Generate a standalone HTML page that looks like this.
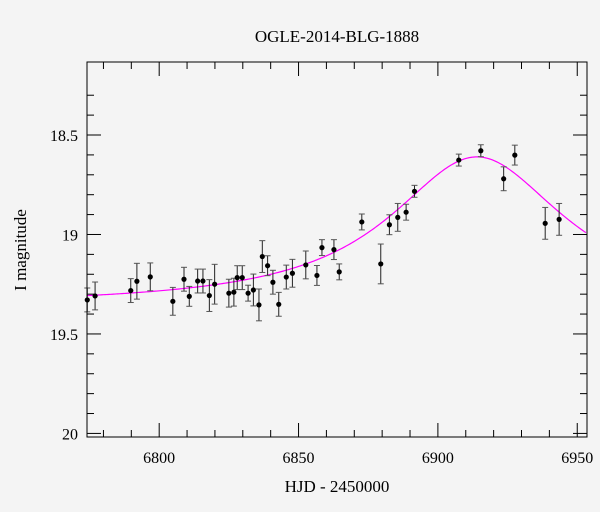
<!DOCTYPE html>
<html><head><meta charset="utf-8"><style>
html,body{margin:0;padding:0;background:#f4f4f4;}
svg{display:block;font-family:"Liberation Serif",serif;}
</style></head><body>
<svg id="chart" width="600" height="512" xmlns="http://www.w3.org/2000/svg">
<rect width="600" height="512" fill="#f4f4f4"/>
<text x="337" y="42" font-size="17" text-anchor="middle">OGLE-2014-BLG-1888</text>
<text x="337" y="492" font-size="17" text-anchor="middle">HJD - 2450000</text>
<text transform="translate(26,250) rotate(-90)" font-size="17" text-anchor="middle">I magnitude</text>
<g id="axes"></g>
<g id="marks"></g>
<rect x="87" y="62" width="500" height="375" fill="none" stroke="#000" stroke-width="1"/>
</svg>
<script>
const times = [6774.2,6777,6789.8,6792,6796.8,6804.9,6808.9,6810.8,6813.8,6815.7,6818,6819.9,6825,6826.8,6828,6829.8,6831.9,6833.8,6835.8,6837,6838.9,6840.8,6842.9,6845.6,6847.8,6852.6,6856.6,6858.4,6862.7,6864.6,6872.7,6879.5,6882.6,6885.6,6888.6,6891.6,6907.5,6915.4,6923.6,6927.6,6938.5,6943.5];
const mags = [19.329,19.309,19.282,19.235,19.213,19.336,19.225,19.311,19.234,19.234,19.307,19.25,19.295,19.29,19.217,19.217,19.295,19.279,19.354,19.111,19.157,19.24,19.351,19.214,19.195,19.153,19.206,19.066,19.076,19.188,18.937,19.148,18.951,18.914,18.888,18.783,18.626,18.579,18.72,18.601,18.944,18.924];
const errs = [0.06,0.07,0.06,0.09,0.07,0.07,0.06,0.05,0.06,0.06,0.08,0.1,0.07,0.07,0.06,0.06,0.04,0.08,0.08,0.08,0.05,0.06,0.06,0.06,0.07,0.07,0.05,0.04,0.05,0.04,0.04,0.1,0.05,0.07,0.04,0.03,0.03,0.03,0.06,0.05,0.08,0.08];
const xTicks = [6800,6850,6900,6950];
const yTicks = [18.5,19,19.5,20];
const model = {base:19.36, amp:0.75, t0:6914, width:38.5};

const X0=87,X1=587,Y0=62,Y1=437;
const tMin=6774.1,tMax=6953.5,mTop=18.133,mBot=20.018;
const sx=t=>X0+(t-tMin)/(tMax-tMin)*(X1-X0);
const sy=m=>Y0+(m-mTop)/(mBot-mTop)*(Y1-Y0);
const NS="http://www.w3.org/2000/svg";
const axes=document.getElementById('axes'), marks=document.getElementById('marks');
function mk(tag,attrs,parent){const e=document.createElementNS(NS,tag);for(const k in attrs)e.setAttribute(k,attrs[k]);parent.appendChild(e);return e;}
// x ticks
for(let t=6780;t<=6950;t+=10){
  const x=sx(t), maj=(t%50===0), L=maj?14:7;
  const a=mk('line',{x1:x,x2:x,y1:Y1,y2:Y1-L,stroke:'#000','stroke-width':1},axes);
  
  
  const b=mk('line',{x1:x,x2:x,y1:Y0,y2:Y0+L,stroke:'#000','stroke-width':1},axes);
  
  
}
xTicks.forEach(t=>{
  const e=mk('text',{x:sx(t),y:463,'font-size':16,'text-anchor':'middle'},axes);
  e.textContent=String(t);
  
  
});
// y ticks
for(let i=2;i<=20;i++){
  const m=18.1+i*0.1; if(m>20.01) break;
  const y=sy(m), maj=Math.abs(m*2-Math.round(m*2))<1e-6, L=maj?14:7;
  const a=mk('line',{x1:X0,x2:X0+L,y1:y,y2:y,stroke:'#000','stroke-width':1},axes);
  
  
  const b=mk('line',{x1:X1,x2:X1-L,y1:y,y2:y,stroke:'#000','stroke-width':1},axes);
  
  
}
yTicks.forEach(m=>{
  const e=mk('text',{x:78,y:sy(m)+6,'font-size':16,'text-anchor':'end'},axes);
  e.textContent=String(m);
  
  
});
// model curve
let d='';
for(let t=tMin;t<=tMax;t+=0.5){
  const x=(t-model.t0)/model.width;
  const m=model.base-model.amp/(1+x*x);
  d+=(d?'L':'M')+sx(t).toFixed(2)+','+sy(m).toFixed(2);
}
const curve=mk('path',{d:d,fill:'none',stroke:'#ff00ff','stroke-width':1.2},marks);


// data points
times.forEach((t,i)=>{
  const x=sx(t),y=sy(mags[i]),ya=sy(mags[i]-errs[i]),yb=sy(mags[i]+errs[i]);
  const g=mk('g',{},marks);
  
  
  mk('line',{x1:x,x2:x,y1:ya,y2:yb,stroke:'#222','stroke-width':1},g);
  mk('line',{x1:x-3,x2:x+3,y1:ya,y2:ya,stroke:'#555','stroke-width':1},g);
  mk('line',{x1:x-3,x2:x+3,y1:yb,y2:yb,stroke:'#555','stroke-width':1},g);
  mk('circle',{cx:x,cy:y,r:2.6,fill:'#000'},g);
});
</script>
</body></html>
